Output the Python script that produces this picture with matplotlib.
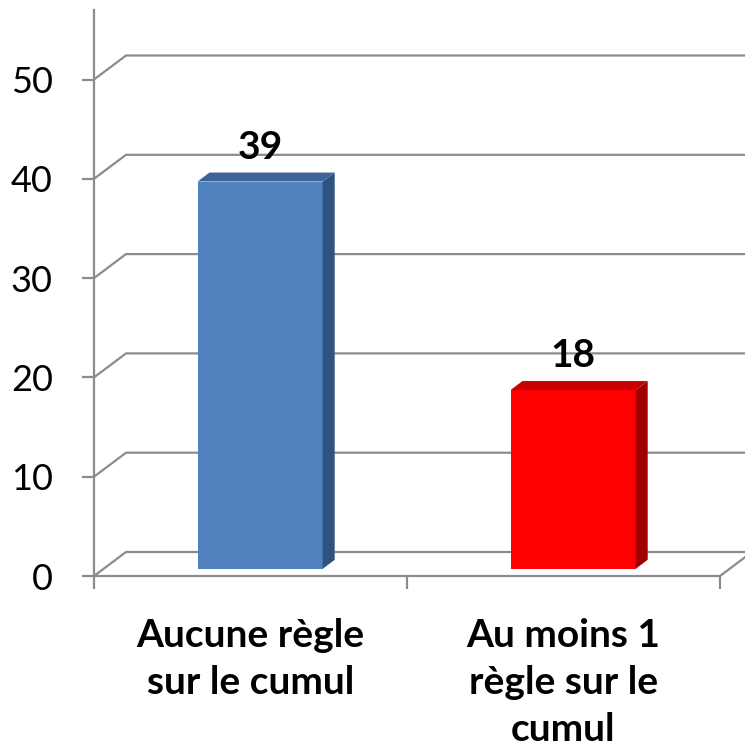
import matplotlib
matplotlib.use("Agg")
import matplotlib.pyplot as plt
from matplotlib.patches import Polygon

plt.rcParams['font.family'] = ['Lato', 'DejaVu Sans']

# donnees du graphique
categories = ["Aucune règle\nsur le cumul", "Au moins 1\nrègle sur le\ncumul"]
valeurs = [39, 18]
couleurs_face = ["#4f81bd", "#ff0000"]
couleurs_dessus = ["#3d6497", "#c80000"]
couleurs_cote = ["#30527f", "#a00000"]
graduations = [0, 10, 20, 30, 40, 50]

gris = "#8c8c8c"

fig = plt.figure(figsize=(7.45, 7.5), dpi=100)
# zone de trace (plan avant)
ax = fig.add_axes([94 / 745, 174 / 750, 626 / 745, 566 / 750])
ax.set_xlim(-0.5, 1.5)
ax.set_ylim(0, 57)

# profondeur 3D (mur du fond) en unites de donnees
px_x = 626 / 2.0
px_y = 566 / 57.0
prof_x = 32 / px_x
prof_y = 24 / px_y

# murs : lignes de grille avec la diagonale
for g in graduations:
    ax.plot([-0.5, -0.5 + prof_x, 1.5 + prof_x], [g, g + prof_y, g + prof_y],
            color=gris, lw=1.6, clip_on=False, zorder=1)
# bord droit du sol
ax.plot([1.5, 1.5 + prof_x], [0, prof_y], color=gris, lw=1.6, clip_on=False, zorder=1)

# barres 3D
f0, f1 = 0.30, 0.675
largeur = 0.40
for i, v in enumerate(valeurs):
    dx0, dy0 = f0 * prof_x, f0 * prof_y
    dx1, dy1 = f1 * prof_x, f1 * prof_y
    xc = i + dx0
    ax.bar(xc, v, width=largeur, bottom=dy0, color=couleurs_face[i], zorder=3)
    xl, xr = xc - largeur / 2, xc + largeur / 2
    ddx, ddy = dx1 - dx0, dy1 - dy0
    cote = Polygon([(xr, dy0), (xr + ddx, dy0 + ddy), (xr + ddx, dy0 + ddy + v), (xr, dy0 + v)],
                   closed=True, facecolor=couleurs_cote[i], edgecolor='none', zorder=3)
    dessus = Polygon([(xl, dy0 + v), (xr, dy0 + v), (xr + ddx, dy0 + ddy + v), (xl + ddx, dy0 + ddy + v)],
                     closed=True, facecolor=couleurs_dessus[i], edgecolor='none', zorder=3)
    ax.add_patch(cote)
    ax.add_patch(dessus)
    ax.annotate(str(v), (xc, dy0 + v), xytext=(0, 16.5), textcoords='offset points',
                ha='center', va='baseline', fontsize=28, fontweight='bold', zorder=4)

# axes
for s in ['top', 'right']:
    ax.spines[s].set_visible(False)
for s in ['left', 'bottom']:
    ax.spines[s].set_color(gris)
    ax.spines[s].set_linewidth(1.6)

ax.set_yticks(graduations)
ax.set_yticklabels([str(g) for g in graduations], fontsize=26)
ax.tick_params(axis='y', length=8.6, width=1.6, color=gris, pad=21)

ax.set_xticks([-0.5, 0.5, 1.5])
ax.set_xticklabels([])
ax.tick_params(axis='x', which='major', length=9.4, width=1.6, color=gris)
ax.set_xticks([0, 1], minor=True)
ax.set_xticklabels(categories, minor=True, fontsize=28, fontweight='bold', linespacing=1.42)
ax.tick_params(axis='x', which='minor', length=0, pad=30)

ax.set_facecolor('none')
fig.savefig("out.png", dpi=100)
